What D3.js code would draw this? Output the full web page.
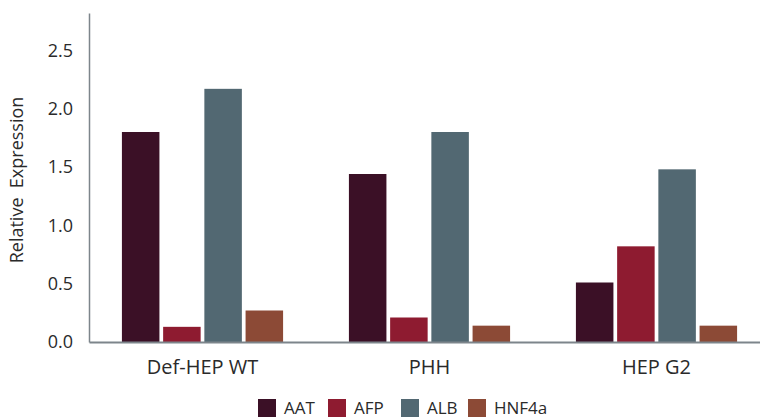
<!DOCTYPE html>
<html><head><meta charset="utf-8">
<script src="https://cdn.jsdelivr.net/npm/d3@7"></script>
<style>body{margin:0;background:#fff;} svg{display:block;font-family:"Open Sans",sans-serif;}</style>
</head><body><svg id="chart" width="760" height="418"></svg>
<script>
const categories = ["Def-HEP WT", "PHH", "HEP G2"];
const seriesNames = ["AAT", "AFP", "ALB", "HNF4a"];
const AAT = [1.80, 1.44, 0.51];
const AFP = [0.13, 0.21, 0.82];
const ALB = [2.17, 1.80, 1.48];
const HNF4a = [0.27, 0.14, 0.14];
const yTicks = [0, 0.5, 1.0, 1.5, 2.0, 2.5];
const colors = ["#3b1026", "#8e1b30", "#526872", "#8c4a36"];

(function(){
const series = [AAT, AFP, ALB, HNF4a];
const svg = d3.select("#chart");
const mLeft = 89, mRight = 770, mTop = 13, mBottom = 342;

const x0 = d3.scaleBand().domain(categories).range([mLeft, mRight]).paddingInner(0.29).paddingOuter(0.145);
const x1 = d3.scaleBand().domain(seriesNames).range([0, x0.bandwidth()]).paddingInner(0.09);
const y = d3.scaleLinear().domain([0, 2.82]).range([mBottom, mTop]);
const color = d3.scaleOrdinal().domain(seriesNames).range(colors);

const data = categories.map((c, i) => ({cat: c, vals: seriesNames.map((s, j) => ({key: s, v: series[j][i]}))}));

svg.append("g").selectAll("g").data(data).join("g")
  .attr("transform", d => `translate(${x0(d.cat)},0)`)
  .selectAll("rect").data(d => d.vals).join("rect")
  .attr("x", d => x1(d.key)).attr("width", x1.bandwidth())
  .attr("y", d => y(d.v)).attr("height", d => y(0) - y(d.v))
  .attr("fill", d => color(d.key));

const yAxis = svg.append("g").attr("transform", `translate(${mLeft},0)`)
  .call(d3.axisLeft(y).tickValues(yTicks).tickFormat(d3.format(".1f")).tickSize(0).tickPadding(16));
yAxis.select(".domain").attr("stroke", "#7d858b").attr("stroke-width", 1.5);
yAxis.selectAll("text").attr("font-size", 18).attr("fill", "#2a2a2a").attr("font-family", "Open Sans, sans-serif");

const xAxis = svg.append("g").attr("transform", `translate(0,${mBottom})`)
  .call(d3.axisBottom(x0).tickSize(0).tickPadding(18));
xAxis.select(".domain").attr("stroke", "#7d858b").attr("stroke-width", 2);
xAxis.selectAll("text").attr("font-size", 20).attr("fill", "#2a2a2a").attr("font-family", "Open Sans, sans-serif");

svg.append("text").attr("transform", "translate(23,180) rotate(-90)")
  .attr("text-anchor", "middle").attr("font-size", 18).attr("fill", "#2a2a2a")
  .style("white-space", "pre").text("Relative  Expression");

const legX = [258, 328, 401, 468];
const leg = svg.append("g").selectAll("g").data(seriesNames).join("g")
  .attr("transform", (d, i) => `translate(${legX[i]},399)`);
leg.append("rect").attr("width", 18).attr("height", 18).attr("fill", d => color(d));
leg.append("text").attr("x", 26).attr("y", 15).attr("font-size", 17).attr("fill", "#2a2a2a").text(d => d);
})();
</script></body></html>
